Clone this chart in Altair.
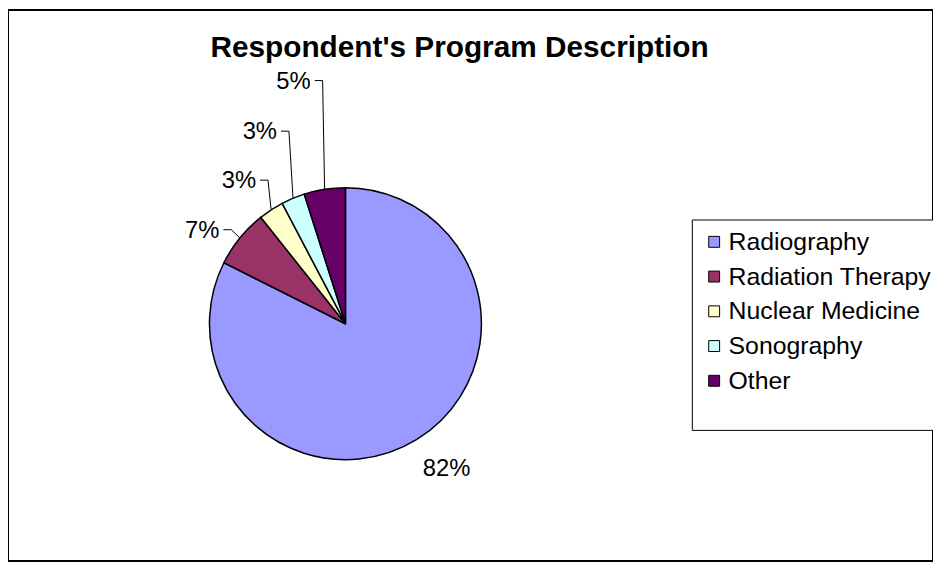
import altair as alt
import pandas as pd

# ---- data ----
categories = ["Radiography", "Radiation Therapy", "Nuclear Medicine", "Sonography", "Other"]
values = [82.4, 6.9, 3.0, 2.8, 4.9]
colors = ["#9999FF", "#993366", "#FFFFCC", "#CCFFFF", "#660066"]
title_text = "Respondent's Program Description"

# ---- layout (label elbow offsets from the slice's rim point, px) ----
elbow_dx = [66, -8.6, -3.2, -4.1, -2.0]
elbow_dy = [28.7, -8.4, -29.9, -67.6, -109.6]
has_leader = [0, 1, 1, 1, 1]

FONT = "Liberation Sans"
W, H = 932, 555
CX, CY, R = 340, 316, 137

df = pd.DataFrame({
    "category": categories,
    "value": values,
    "order": list(range(len(categories))),
    "edx": elbow_dx,
    "edy": elbow_dy,
    "leader": has_leader,
})

base = alt.Chart(df)

pie = base.mark_arc(radius=R, stroke="black", strokeWidth=1.5).encode(
    theta=alt.Theta("value:Q", stack=True),
    order=alt.Order("order:Q"),
    color=alt.Color(
        "category:N",
        scale=alt.Scale(domain=categories, range=colors),
        sort=categories,
        legend=alt.Legend(
            title=" ",
            titleOrient="bottom",
            titleFontSize=22,
            titlePadding=5,
            orient="none",
            legendX=689,
            legendY=211,
            symbolType="square",
            symbolSize=121,
            symbolStrokeColor="black",
            symbolStrokeWidth=1,
            labelFont=FONT,
            labelFontSize=25,
            labelColor="black",
            labelOffset=2,
            labelLimit=400,
            rowPadding=9,
            padding=10,
            strokeColor="black",
            fillColor="white",
        ),
    ),
    x=alt.value(CX),
    y=alt.value(CY),
)

geo = (
    base.transform_window(
        cum="sum(value)",
        sort=[alt.SortField("order", order="ascending")],
        frame=[None, 0],
    )
    .transform_joinaggregate(total="sum(value)")
    .transform_calculate(
        mid="(datum.cum - datum.value / 2) / datum.total * 2 * PI",
        ex=f"{CX} + {R} * sin(datum.mid)",
        ey=f"{CY} - {R} * cos(datum.mid)",
        bx="datum.ex + datum.edx",
        by="datum.ey + datum.edy",
        tx="datum.bx - 8",
        lx="datum.bx - 12",
        ly="datum.by + 8",
        label="format(datum.value, '.0f') + '%'",
    )
)

labels = geo.mark_text(
    align="right", baseline="alphabetic", font=FONT, fontSize=24, color="black"
).encode(
    x=alt.X("lx:Q", scale=None, axis=None),
    y=alt.Y("ly:Q", scale=None, axis=None),
    text="label:N",
)

tick = geo.transform_filter("datum.leader == 1").mark_rule(
    color="black", strokeWidth=1
).encode(
    x=alt.X("tx:Q", scale=None, axis=None),
    x2="bx:Q",
    y=alt.Y("by:Q", scale=None, axis=None),
)

slant = geo.transform_filter("datum.leader == 1").mark_rule(
    color="black", strokeWidth=1
).encode(
    x=alt.X("bx:Q", scale=None, axis=None),
    y=alt.Y("by:Q", scale=None, axis=None),
    x2="ex:Q",
    y2="ey:Q",
)

title = alt.Chart(pd.DataFrame({"title": [title_text]})).mark_text(
    font=FONT, fontSize=30, fontWeight="bold", align="center",
    baseline="alphabetic", color="black"
).encode(
    x=alt.value(455),
    y=alt.value(47),
    text="title:N",
)

chart = (
    alt.layer(pie, tick, slant, labels, title)
    .properties(
        width=W,
        height=H,
        padding=0,
        autosize=alt.AutoSizeParams(type="none"),
        background="white",
    )
    .configure_view(stroke="black", strokeWidth=2)
)

chart.save("out.html", embed_options={"renderer": "svg", "actions": False})
